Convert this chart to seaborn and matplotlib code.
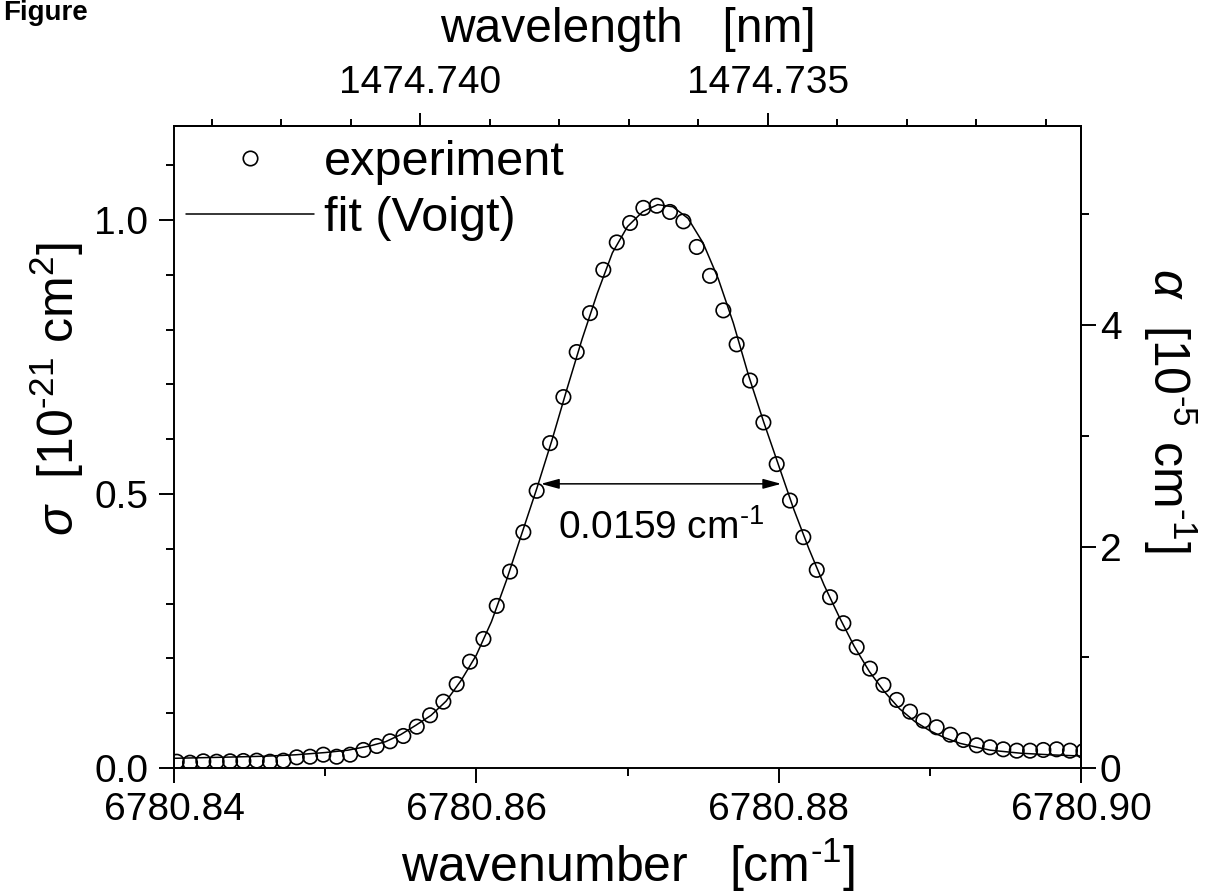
import matplotlib
matplotlib.use("Agg")
import matplotlib.pyplot as plt
import seaborn as sns
from matplotlib.ticker import FixedLocator, MultipleLocator, FormatStrFormatter
from matplotlib.lines import Line2D

# ---------------------------------------------------------------------------
# Data: absorption line profile (cross-section in 10^-21 cm^2)
# wavenumbers are stored as offsets from nu_origin (cm^-1)
# ---------------------------------------------------------------------------
nu_origin = 6780.84

nu_offset_exp = [
    0.00018, 0.00106, 0.00194, 0.00282, 0.00371, 0.00459, 0.00547, 0.00635,
    0.00724, 0.00812, 0.00900, 0.00988, 0.01076, 0.01165, 0.01253, 0.01341,
    0.01429, 0.01517, 0.01606, 0.01694, 0.01782, 0.01870, 0.01958, 0.02047,
    0.02135, 0.02223, 0.02311, 0.02399, 0.02488, 0.02576, 0.02664, 0.02752,
    0.02840, 0.02929, 0.03017, 0.03105, 0.03193, 0.03281, 0.03370, 0.03458,
    0.03546, 0.03634, 0.03722, 0.03811, 0.03899, 0.03987, 0.04075, 0.04163,
    0.04252, 0.04340, 0.04428, 0.04516, 0.04604, 0.04693, 0.04781, 0.04869,
    0.04957, 0.05045, 0.05134, 0.05222, 0.05310, 0.05398, 0.05486, 0.05575,
    0.05663, 0.05751, 0.05839, 0.05927, 0.06016,
]
sigma_exp = [
    0.0115, 0.0097, 0.0122, 0.0115, 0.0122, 0.0128, 0.0134, 0.0115,
    0.0134, 0.0195, 0.0206, 0.0243, 0.0206, 0.0243, 0.0329, 0.0402,
    0.0487, 0.0584, 0.0754, 0.0962, 0.1210, 0.1530, 0.1940, 0.2355,
    0.2958, 0.3584, 0.4303, 0.5058, 0.5928, 0.6768, 0.7590, 0.8300,
    0.9090, 0.9590, 0.9945, 1.0220, 1.0260, 1.0146, 0.9975, 0.9507,
    0.8980, 0.8350, 0.7730, 0.7070, 0.6305, 0.5545, 0.4880, 0.4212,
    0.3615, 0.3117, 0.2642, 0.2204, 0.1813, 0.1515, 0.1242, 0.1028,
    0.0864, 0.0743, 0.0608, 0.0511, 0.0414, 0.0378, 0.0341, 0.0316,
    0.0316, 0.0329, 0.0341, 0.0316, 0.0310,
]

nu_offset_fit = [
    0.0000, 0.0030, 0.0060, 0.0080, 0.0100, 0.0115, 0.0130, 0.0140,
    0.0150, 0.0160, 0.0170, 0.0180, 0.0190, 0.0200, 0.0210, 0.0220,
    0.0230, 0.0240, 0.0250, 0.0260, 0.0270, 0.0280, 0.0290, 0.0300,
    0.0310, 0.0320, 0.0330, 0.0340, 0.0350, 0.0360, 0.0370, 0.0380,
    0.0390, 0.0400, 0.0410, 0.0420, 0.0430, 0.0440, 0.0450, 0.0460,
    0.0470, 0.0480, 0.0490, 0.0500, 0.0510, 0.0520, 0.0530, 0.0540,
    0.0560, 0.0580, 0.0600,
]
sigma_fit = [
    0.0177, 0.0195, 0.0215, 0.0240, 0.0282, 0.0325, 0.0405, 0.0480,
    0.0610, 0.0780, 0.0960, 0.1220, 0.1600, 0.2060, 0.2670, 0.3430,
    0.4270, 0.5100, 0.5980, 0.6920, 0.7830, 0.8660, 0.9400, 0.9880,
    1.0150, 1.0280, 1.0240, 1.0030, 0.9580, 0.8930, 0.8120, 0.7170,
    0.6320, 0.5520, 0.4720, 0.4000, 0.3340, 0.2760, 0.2220, 0.1760,
    0.1390, 0.1080, 0.0850, 0.0680, 0.0550, 0.0450, 0.0385, 0.0325,
    0.0270, 0.0240, 0.0219,
]

# line width annotation
fwhm = 0.0159            # cm^-1
line_center = 6780.87222 # cm^-1
half_level = 0.5185      # 10^-21 cm^2

# absorption coefficient scale: alpha [1e-5 cm^-1] per sigma [1e-21 cm^2]
alpha_per_sigma = 4.95

x_ticks = [6780.84, 6780.86, 6780.88, 6780.90]
wavelength_ticks = [1474.740, 1474.735]
wavelength_minor = [1474.743, 1474.742, 1474.741, 1474.739, 1474.738,
                    1474.737, 1474.736, 1474.734, 1474.733, 1474.732,
                    1474.731]
alpha_ticks = [0, 2, 4]
alpha_minor = [1, 3, 5]

nu_exp = [nu_origin + d for d in nu_offset_exp]
nu_fit = [nu_origin + d for d in nu_offset_fit]

# ---------------------------------------------------------------------------
# Style
# ---------------------------------------------------------------------------
sns.set_style("ticks")
plt.rcParams["font.family"] = ["Liberation Sans", "DejaVu Sans"]
plt.rcParams["mathtext.fontset"] = "custom"
plt.rcParams["mathtext.rm"] = "Liberation Sans"
plt.rcParams["mathtext.it"] = "Liberation Sans:italic"
plt.rcParams["mathtext.bf"] = "Liberation Sans:bold"
for key in ("text.color", "axes.labelcolor", "xtick.color", "ytick.color",
            "axes.edgecolor"):
    plt.rcParams[key] = "black"

TICK_FS = 28
TOP_LABEL_FS = 34.5
LABEL_FS = 36
LEGEND_FS = 35
LW_AX = 1.4

fig = plt.figure(figsize=(12.10, 8.96), dpi=100)
ax = fig.add_axes([174 / 1210, 128 / 896, 907 / 1210, 642.3 / 896])

sns.lineplot(x=nu_fit, y=sigma_fit, ax=ax, color="black", linewidth=1.1,
             zorder=2)
sns.scatterplot(x=nu_exp, y=sigma_exp, ax=ax, marker="o", s=108,
                facecolors="none", edgecolors="black", linewidths=1.2,
                zorder=3, legend=False)

ax.set_xlim(6780.84, 6780.90)
ax.set_ylim(0, 1.172)

ax.xaxis.set_major_locator(FixedLocator(x_ticks))
ax.xaxis.set_minor_locator(MultipleLocator(0.01))
ax.xaxis.set_major_formatter(FormatStrFormatter("%.2f"))
ax.yaxis.set_major_locator(MultipleLocator(0.5))
ax.yaxis.set_minor_locator(MultipleLocator(0.1))
ax.yaxis.set_major_formatter(FormatStrFormatter("%.1f"))

for sp in ax.spines.values():
    sp.set_linewidth(LW_AX)
    sp.set_color("black")
    sp.set_visible(True)

ax.tick_params(which="major", direction="out", length=10.5, width=LW_AX,
               labelsize=TICK_FS, pad=7, color="black", labelcolor="black")
ax.tick_params(which="minor", direction="out", length=5.5, width=LW_AX,
               color="black")
ax.tick_params(axis="y", which="major", pad=8)
ax.set_xlabel("")
ax.set_ylabel("")

# top axis: wavelength in nm
def nu_to_lambda(nu):
    return 1e7 / nu

def lambda_to_nu(lam):
    return 1e7 / lam

top = ax.secondary_xaxis("top", functions=(nu_to_lambda, lambda_to_nu))
top.xaxis.set_major_locator(FixedLocator(wavelength_ticks))
top.xaxis.set_minor_locator(FixedLocator(wavelength_minor))
top.xaxis.set_major_formatter(FormatStrFormatter("%.3f"))
top.tick_params(which="major", direction="out", length=9.5, width=LW_AX,
                labelsize=TICK_FS, pad=8, color="black", labelcolor="black")
top.tick_params(which="minor", direction="out", length=5, width=LW_AX,
                color="black")
top.spines["top"].set_linewidth(LW_AX)

# right axis: absorption coefficient
right = ax.secondary_yaxis("right", functions=(lambda s: s * alpha_per_sigma,
                                               lambda a: a / alpha_per_sigma))
right.yaxis.set_major_locator(FixedLocator(alpha_ticks))
right.yaxis.set_minor_locator(FixedLocator(alpha_minor))
right.yaxis.set_major_formatter(FormatStrFormatter("%d"))
right.tick_params(which="major", direction="out", length=10.5, width=LW_AX,
                  labelsize=TICK_FS, pad=3, color="black", labelcolor="black")
right.tick_params(which="minor", direction="out", length=5.5, width=LW_AX,
                  color="black")
right.spines["right"].set_linewidth(LW_AX)

# FWHM arrow and label
ax.annotate("", xy=(line_center - fwhm / 2, half_level),
            xytext=(line_center + fwhm / 2, half_level),
            arrowprops=dict(arrowstyle="<|-|>,head_length=1.1,head_width=0.3",
                            mutation_scale=10, lw=1.1, color="black",
                            shrinkA=0, shrinkB=0))
ax.text(line_center, 0.418, f"{fwhm:.4f} cm$^{{\\text{{-1}}}}$", ha="center",
        va="baseline", fontsize=TICK_FS)

# legend
handles = [
    Line2D([], [], ls="none", marker="o", mfc="none", mec="black", ms=10.4,
           mew=1.2),
    Line2D([], [], color="black", lw=1.1),
]
ax.legend(handles, ["experiment", "fit (Voigt)"], loc="upper left",
          bbox_to_anchor=(0.0132, 0.978), frameon=False, fontsize=LEGEND_FS,
          handlelength=2.63, handletextpad=0.2, labelspacing=0.22,
          borderaxespad=0, borderpad=0)

# axis titles
fig.text(627.5 / 1210, 1 - 41.7 / 896, "wavelength   [nm]", ha="center",
         va="baseline", fontsize=TOP_LABEL_FS)
fig.text(627.5 / 1210, 1 - 882 / 896, r"wavenumber   [cm$^{\text{-1}}$]",
         ha="center", va="baseline", fontsize=LABEL_FS)
fig.text(57 / 1210, 1 - 389 / 896,
         r"$\sigma$  [10$^{\text{-21}}$ cm$^{\text{2}}$]",
         rotation=90, ha="center", va="center", fontsize=LABEL_FS)
fig.text(1170 / 1210, 1 - 410 / 896,
         r"$\alpha$  [10$^{\text{-5}}$ cm$^{\text{-1}}$]",
         rotation=-90, ha="center", va="center", fontsize=LABEL_FS)

fig.text(3 / 1210, 1 - 20 / 896, "Figure", ha="left", va="baseline",
         fontsize=20, fontweight="bold")

fig.savefig("out.png", dpi=100, facecolor="white")
